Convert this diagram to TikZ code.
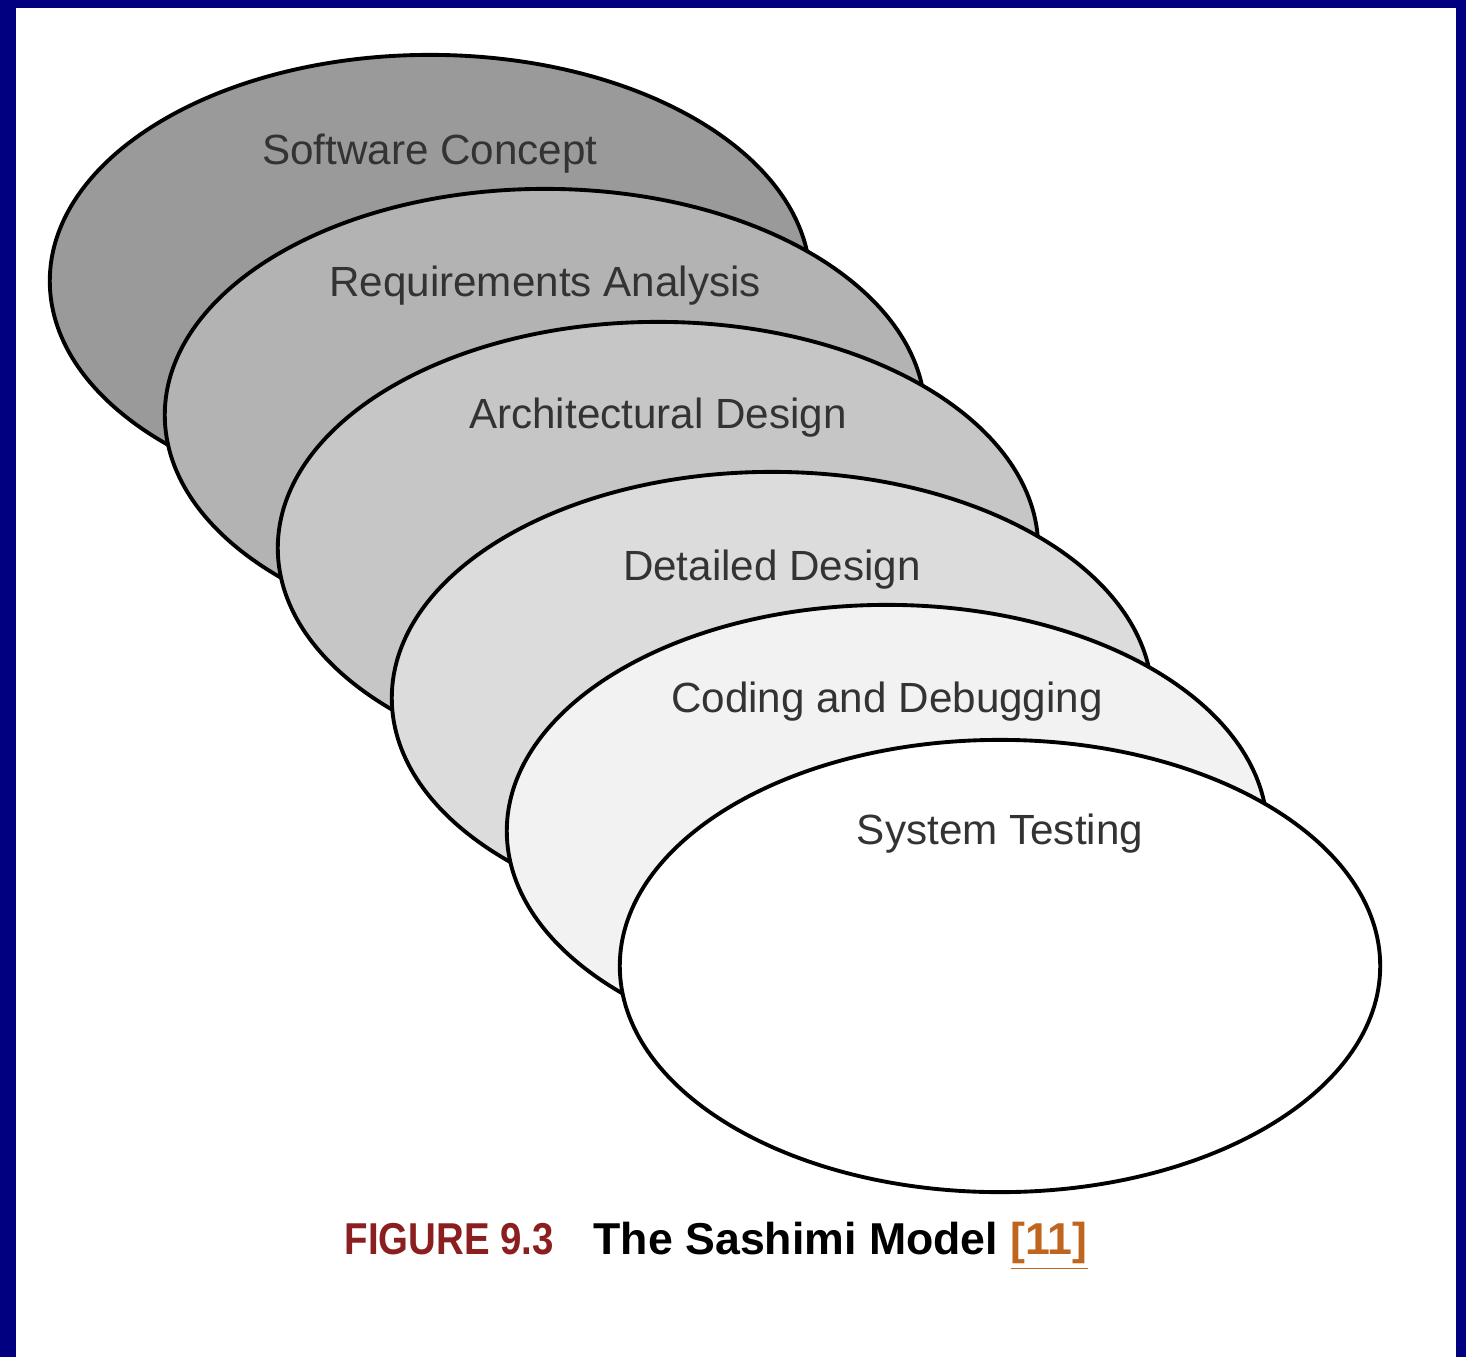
\documentclass[tikz,border=0pt]{standalone}
\usepackage{fontspec}
\setmainfont{Liberation Sans}
\usetikzlibrary{shapes.geometric}
\definecolor{framenavy}{HTML}{000080}
\definecolor{figred}{HTML}{8B1E1E}
\definecolor{refbrown}{HTML}{C0651E}
\definecolor{labelgray}{HTML}{333333}
\definecolor{stageA}{HTML}{9A9A9A}
\definecolor{stageB}{HTML}{B3B3B3}
\definecolor{stageC}{HTML}{C6C6C6}
\definecolor{stageD}{HTML}{DCDCDC}
\definecolor{stageE}{HTML}{F2F2F2}
\definecolor{stageF}{HTML}{FFFFFF}

\begin{document}
\begin{tikzpicture}[x=0.01cm, y=-0.01cm,
    stage/.style={ellipse, draw=black, line width=1.1pt, inner sep=0pt,
      minimum width=7.6cm, minimum height=4.52cm},
    stagelabel/.style={text=labelgray, font=\fontsize{12}{14}\selectfont},
    caption/.style={anchor=base west, inner sep=0pt,
      font=\bfseries\fontsize{12.7}{15}\selectfont}]
    % Page and frame
    \useasboundingbox (0,0) rectangle (1466,1357);
    \fill[white] (0,0) rectangle (1466,1357);
    \fill[framenavy] (0,0) rectangle (16,1357);
    \fill[framenavy] (0,0) rectangle (1466,8);
    \fill[framenavy] (1456,0) rectangle (1466,1357);

    % Overlapping phases, back to front
    \node[stage, fill=stageA] (concept) at (430,281) {};
    \node[stagelabel] (conceptlbl) at (430,154) {Software Concept};

    \node[stage, fill=stageB] (reqs) at (545,415) {};
    \node[stagelabel] (reqslbl) at (545,286) {Requirements Analysis};

    \node[stage, fill=stageC] (arch) at (658,548) {};
    \node[stagelabel] (archlbl) at (658,418) {Architectural Design};

    \node[stage, fill=stageD] (detail) at (772,698) {};
    \node[stagelabel] (detaillbl) at (772,570) {Detailed Design};

    \node[stage, fill=stageE] (coding) at (887,831) {};
    \node[stagelabel] (codinglbl) at (887,702) {Coding and Debugging};

    \node[stage, fill=stageF] (testing) at (1000,966) {};
    \node[stagelabel] (testinglbl) at (1000,834) {System Testing};

    % Caption below
    \node[caption, text=figred] (fignum) at (344,1254) {\scalebox{0.86}[1]{FIGURE 9.3}};
    \node[caption] (figtitle) at (593,1254) {The Sashimi Model};
    \node[caption, text=refbrown] (figref) at (1010,1254) {\underline{[11]}};
\end{tikzpicture}
\end{document}
